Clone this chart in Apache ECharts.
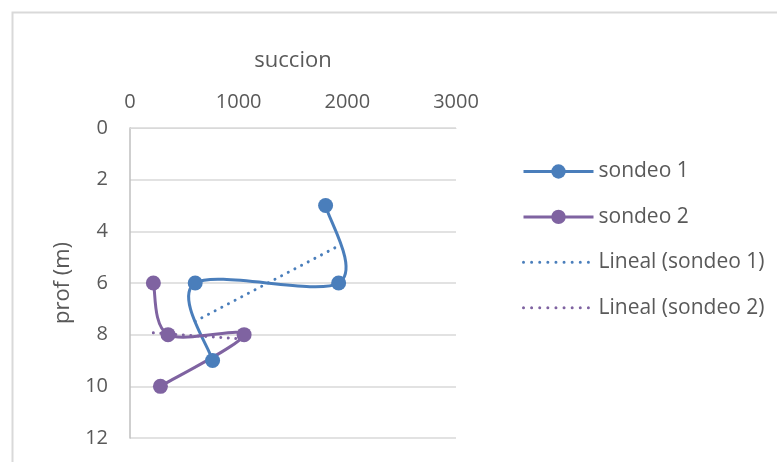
<!DOCTYPE html>
<html>
<head>
<meta charset="utf-8">
<script src="https://cdn.jsdelivr.net/npm/echarts@6/dist/echarts.min.js"></script>
<style>html,body{margin:0;padding:0;background:#fff;}#c{width:777px;height:462px;}</style>
</head>
<body>
<div id="c"></div>
<script>
const xTicks = [0, 1000, 2000, 3000];
const yTicks = [0, 2, 4, 6, 8, 10, 12];
const seriesNames = ['sondeo 1', 'sondeo 2', 'Lineal (sondeo 1)', 'Lineal (sondeo 2)'];
const s1Succion = [1800, 1920, 600, 760];
const s1Prof = [3, 6, 6, 9];
const s2Succion = [215, 350, 1050, 280];
const s2Prof = [6, 8, 8, 10];
const t1Succion = [600, 1920];
const t1Prof = [7.48, 4.56];
const t2Succion = [215, 1050];
const t2Prof = [7.93, 8.17];

const pairs = (xs, ys) => xs.map((x, i) => [x, ys[i]]);
const txt = '#595959';
const font = '"Open Sans", sans-serif';
const blue = '#4A7EBB', purple = '#7F63A1';

// Excel-like smoothed curve through the points, in pixel space from api.coord
function smoothCurve(xs, ys, color) {
  return {
    type: 'custom',
    data: pairs(xs, ys),
    encode: {x: 0, y: 1},
    clip: false,
    silent: true,
    z: 2,
    renderItem: function (params, api) {
      if (params.dataIndex !== 0) return null;
      const p = xs.map((x, i) => api.coord([x, ys[i]]));
      const n = p.length;
      let d = 'M' + p[0][0] + ' ' + p[0][1];
      for (let i = 0; i < n - 1; i++) {
        const p0 = p[Math.max(i - 1, 0)], p1 = p[i], p2 = p[i + 1], p3 = p[Math.min(i + 2, n - 1)];
        const c1 = [p1[0] + (p2[0] - p0[0]) / 6, p1[1] + (p2[1] - p0[1]) / 6];
        const c2 = [p2[0] - (p3[0] - p1[0]) / 6, p2[1] - (p3[1] - p1[1]) / 6];
        d += ' C' + c1[0] + ' ' + c1[1] + ' ' + c2[0] + ' ' + c2[1] + ' ' + p2[0] + ' ' + p2[1];
      }
      return {
        type: 'path',
        shape: {pathData: d},
        style: {fill: 'none', stroke: color, lineWidth: 3, lineJoin: 'round', lineCap: 'round'}
      };
    }
  };
}

const dotted = {width: 3, type: [0.01, 7.5], cap: 'round'};

const chart = echarts.init(document.getElementById('c'), null, {renderer: 'canvas'});
chart.setOption({
  animation: false,
  backgroundColor: '#fff',
  graphic: [{
    type: 'rect', left: 10, top: 10, shape: {x: 0, y: 0, width: 766, height: 470},
    style: {fill: 'none', stroke: '#d9d9d9', lineWidth: 2}, silent: true, z: -1
  }],
  grid: {left: 130, top: 128, width: 326, height: 310, containLabel: false},
  legend: {
    orient: 'vertical', left: 522, top: 161, padding: 0, itemWidth: 70, itemHeight: 18, itemGap: 24.4,
    textStyle: {color: txt, fontSize: 21, fontFamily: font},
    data: [
      {name: seriesNames[0], lineStyle: {opacity: 1, width: 3, color: blue}},
      {name: seriesNames[1], lineStyle: {opacity: 1, width: 3, color: purple}},
      {name: seriesNames[2], itemStyle: {opacity: 0}, lineStyle: {width: 3, type: [0.01, 8.1], cap: 'round'}},
      {name: seriesNames[3], itemStyle: {opacity: 0}, lineStyle: {width: 3, type: [0.01, 8.1], cap: 'round'}}
    ]
  },
  xAxis: {
    type: 'value', position: 'top', min: xTicks[0], max: xTicks[xTicks.length - 1], interval: 1000,
    name: 'succion', nameLocation: 'middle', nameGap: 56,
    nameTextStyle: {color: txt, fontSize: 22, fontFamily: font},
    axisLine: {show: true, lineStyle: {color: '#d9d9d9', width: 1}},
    axisTick: {show: false}, splitLine: {show: false},
    axisLabel: {color: txt, fontSize: 20, fontFamily: font, margin: 16, formatter: v => String(v)}
  },
  yAxis: {
    type: 'value', inverse: true, min: yTicks[0], max: yTicks[yTicks.length - 1], interval: 2,
    name: 'prof (m)', nameLocation: 'middle', nameGap: 56, nameRotate: 90,
    nameTextStyle: {color: txt, fontSize: 22, fontFamily: font},
    axisLine: {show: true, lineStyle: {color: '#bfbfbf', width: 1.5}},
    axisTick: {show: false},
    splitLine: {show: true, lineStyle: {color: '#d9d9d9', width: 1.5}},
    axisLabel: {color: txt, fontSize: 20, fontFamily: font, margin: 22}
  },
  series: [
    smoothCurve(s1Succion, s1Prof, blue),
    smoothCurve(s2Succion, s2Prof, purple),
    {
      name: seriesNames[0], type: 'line', data: pairs(s1Succion, s1Prof),
      symbol: 'circle', symbolSize: 15, color: blue,
      lineStyle: {color: blue, width: 3, opacity: 0}, itemStyle: {color: blue}, z: 4
    },
    {
      name: seriesNames[1], type: 'line', data: pairs(s2Succion, s2Prof),
      symbol: 'circle', symbolSize: 15, color: purple,
      lineStyle: {color: purple, width: 3, opacity: 0}, itemStyle: {color: purple}, z: 4
    },
    {
      name: seriesNames[2], type: 'line', data: pairs(t1Succion, t1Prof), symbol: 'none', color: blue,
      lineStyle: Object.assign({color: blue}, dotted), z: 3
    },
    {
      name: seriesNames[3], type: 'line', data: pairs(t2Succion, t2Prof), symbol: 'none', color: purple,
      lineStyle: Object.assign({color: purple}, dotted), z: 3
    }
  ]
});
</script>
</body>
</html>
